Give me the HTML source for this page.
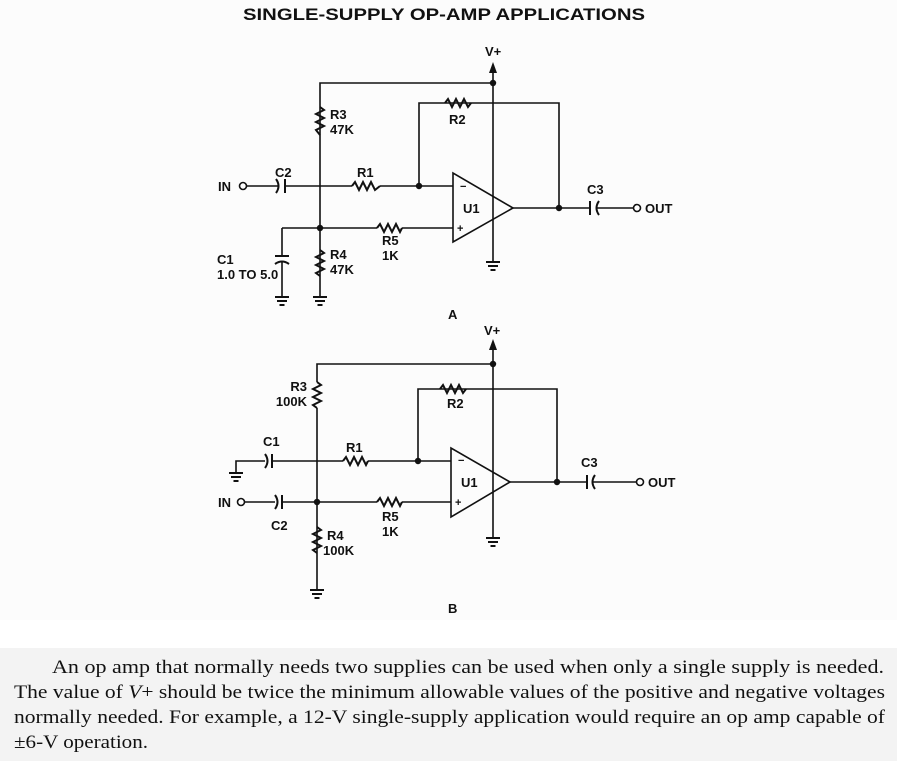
<!DOCTYPE html>
<html><head><meta charset="utf-8"><style>
html,body{margin:0;padding:0;background:#fff}
svg{display:block}
.l{font-family:"Liberation Sans",Arial,sans-serif;font-weight:bold;font-size:13px;fill:#111}
.p{font-family:"Liberation Serif","Times New Roman",serif;font-size:18.5px;fill:#111}
</style></head><body>
<svg width="897" height="761" viewBox="0 0 897 761" xmlns="http://www.w3.org/2000/svg">
<rect x="0" y="0" width="897" height="620" fill="#fcfcfc"/>
<rect x="0" y="620" width="897" height="28" fill="#fff"/>
<rect x="0" y="648" width="897" height="113" fill="#f3f3f3"/>
<text x="444" y="20" text-anchor="middle" font-family="Liberation Sans,Arial,sans-serif" font-weight="bold" font-size="17" textLength="402" lengthAdjust="spacingAndGlyphs" fill="#111">SINGLE-SUPPLY OP-AMP APPLICATIONS</text>
<defs>
<g id="gnd" stroke="#111" stroke-width="2"><line x1="-7" y1="0" x2="7" y2="0"/><line x1="-5" y1="4" x2="5" y2="4"/><line x1="-2.5" y1="8" x2="2.5" y2="8"/></g>
</defs>
<g fill="none" stroke="#111" stroke-width="1.6">
<path d="M493,72 V262"/>
<path d="M320,227 V83 H493"/>
<path d="M419,186 V103 H559 V208"/>
<path d="M247,186 H278 M285,186 H352 M380,186 H453"/>
<path d="M282,228 H377 M402,228 H453"/>
<path d="M513,208 H590 M597,208 H634"/>
<path d="M320,228 V297"/>
<path d="M282,228 V256 M282,262 V297"/>
<path d="M453,173 L453,242 L513,208 Z"/>
</g>
<g fill="none" stroke="#111" stroke-width="2">
<polyline points="320,107 324,110 316,114 324,118 316,122 324,126 316,130 320,135"/>
<polyline points="445,103 448,99 452,107 456,99 460,107 464,99 468,107 471,103"/>
<polyline points="352,186 355,182 359,190 363,182 367,190 371,182 375,190 380,186"/>
<polyline points="377,228 380,224 384,232 388,224 392,232 396,224 400,232 402,228"/>
<polyline points="320,250 324,253 316,257 324,261 316,265 324,269 316,273 320,276"/>
<path d="M276,179 Q281,186 276,193"/><line x1="285" y1="179" x2="285" y2="193"/>
<line x1="275" y1="256" x2="289" y2="256"/><path d="M275,264 Q282,259 289,264"/>
<line x1="590" y1="201" x2="590" y2="215"/><path d="M599,201 Q594,208 599,215"/>
</g>
<g fill="#111">
<circle cx="493" cy="83" r="3.2"/><circle cx="419" cy="186" r="3.2"/><circle cx="320" cy="228" r="3.2"/><circle cx="559" cy="208" r="3.2"/>
<path d="M493,62 L489,73 H497 Z"/>
</g>
<circle cx="243" cy="186" r="3.5" fill="#fff" stroke="#111" stroke-width="1.6"/>
<circle cx="637" cy="208" r="3.5" fill="#fff" stroke="#111" stroke-width="1.6"/>
<use href="#gnd" x="493" y="262"/><use href="#gnd" x="282" y="297"/><use href="#gnd" x="320" y="297"/>
<g class="l">
<text x="485" y="56">V+</text>
<text x="330" y="119">R3</text><text x="330" y="134">47K</text>
<text x="449" y="124">R2</text>
<text x="275" y="177">C2</text><text x="357" y="177">R1</text>
<text x="218" y="191">IN</text>
<text x="463" y="213">U1</text>
<text x="587" y="194">C3</text><text x="645" y="213">OUT</text>
<text x="460" y="190" font-size="11">−</text><text x="457" y="232" font-size="11">+</text>
<text x="382" y="245">R5</text><text x="382" y="260">1K</text>
<text x="217" y="264">C1</text><text x="217" y="279">1.0 TO 5.0</text>
<text x="330" y="259">R4</text><text x="330" y="274">47K</text>
<text x="448" y="319">A</text>
</g>
<g fill="none" stroke="#111" stroke-width="1.6">
<path d="M493,348 V538"/>
<path d="M317,382 V364 H493"/>
<path d="M317,408 V590"/>
<path d="M418,461 V389 H557 V482"/>
<path d="M236,473 V461 H265 M272,461 H343 M368,461 H451"/>
<path d="M245,502 H275 M282,502 H377 M402,502 H451"/>
<path d="M510,482 H587 M592,482 H636"/>
<path d="M451,448 L451,517 L510,482 Z"/>
</g>
<g fill="none" stroke="#111" stroke-width="2">
<polyline points="317,382 321,385 313,389 321,393 313,397 321,401 313,405 317,408"/>
<polyline points="440,389 443,385 447,393 451,385 455,393 459,385 463,393 466,389"/>
<polyline points="343,461 346,457 350,465 354,457 358,465 362,457 366,465 368,461"/>
<polyline points="377,502 380,498 384,506 388,498 392,506 396,498 400,506 402,502"/>
<polyline points="317,527 321,530 313,534 321,538 313,542 321,546 313,550 317,553"/>
<line x1="272" y1="454" x2="272" y2="468"/><path d="M265,454 Q270,461 265,468"/>
<line x1="282" y1="495" x2="282" y2="509"/><path d="M275,495 Q280,502 275,509"/>
<line x1="587" y1="475" x2="587" y2="489"/><path d="M595,475 Q590,482 595,489"/>
</g>
<g fill="#111">
<circle cx="493" cy="364" r="3.2"/><circle cx="418" cy="461" r="3.2"/><circle cx="317" cy="502" r="3.2"/><circle cx="557" cy="482" r="3.2"/>
<path d="M493,339 L489,350 H497 Z"/>
</g>
<circle cx="241" cy="502" r="3.5" fill="#fff" stroke="#111" stroke-width="1.6"/>
<circle cx="640" cy="482" r="3.5" fill="#fff" stroke="#111" stroke-width="1.6"/>
<use href="#gnd" x="236" y="473"/><use href="#gnd" x="493" y="538"/><use href="#gnd" x="317" y="590"/>
<g class="l">
<text x="484" y="335">V+</text>
<text x="307" y="391" text-anchor="end">R3</text><text x="307" y="406" text-anchor="end">100K</text>
<text x="447" y="408">R2</text>
<text x="263" y="446">C1</text><text x="346" y="452">R1</text>
<text x="461" y="487">U1</text>
<text x="581" y="467">C3</text><text x="648" y="487">OUT</text>
<text x="458" y="464" font-size="11">−</text><text x="455" y="506" font-size="11">+</text>
<text x="218" y="507">IN</text>
<text x="271" y="530">C2</text>
<text x="382" y="521">R5</text><text x="382" y="536">1K</text>
<text x="327" y="540">R4</text><text x="323" y="555">100K</text>
<text x="448" y="613">B</text>
</g>
<text class="p" x="52" y="673" textLength="832" lengthAdjust="spacingAndGlyphs">An op amp that normally needs two supplies can be used when only a single supply is needed.</text>
<text class="p" x="14" y="698" textLength="871" lengthAdjust="spacingAndGlyphs">The value of <tspan font-style="italic">V</tspan>+ should be twice the minimum allowable values of the positive and negative voltages</text>
<text class="p" x="14" y="723" textLength="871" lengthAdjust="spacingAndGlyphs">normally needed. For example, a 12-V single-supply application would require an op amp capable of</text>
<text class="p" x="14" y="748" textLength="134" lengthAdjust="spacingAndGlyphs">±6-V operation.</text>
</svg>
</body></html>
